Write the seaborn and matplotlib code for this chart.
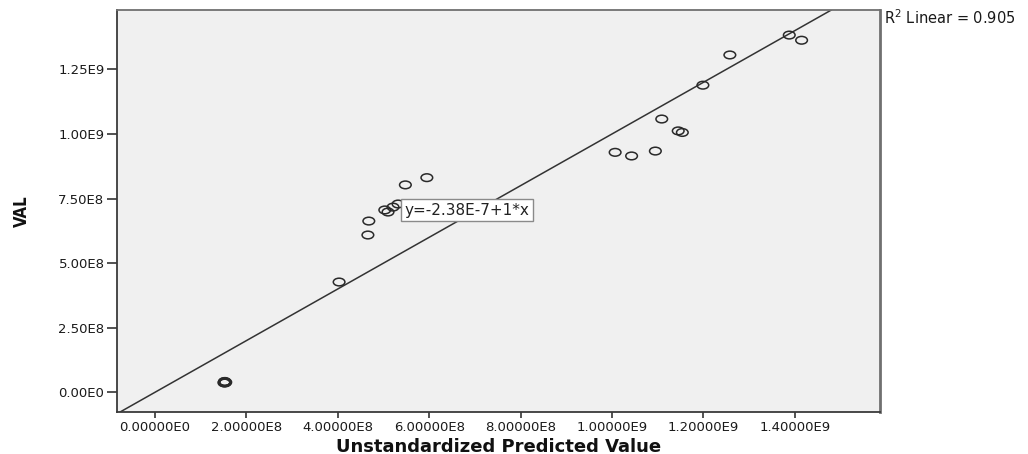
import matplotlib
matplotlib.use("Agg")
import matplotlib.pyplot as plt
from matplotlib.path import Path
import numpy as np
import pandas as pd
import seaborn as sns

# Regression output: unstandardized predicted value vs. observed VAL
predicted = [1.51e8, 1.52e8, 1.53e8, 1.54e8, 1.52e8, 1.53e8, 1.55e8,
             4.03e8, 4.66e8, 4.68e8, 5.03e8, 5.10e8, 5.21e8, 5.32e8,
             5.48e8, 5.95e8, 1.007e9, 1.043e9, 1.095e9, 1.109e9,
             1.145e9, 1.154e9, 1.199e9, 1.258e9, 1.388e9, 1.415e9]
val = [0.37e8, 0.40e8, 0.42e8, 0.38e8, 0.41e8, 0.36e8, 0.39e8,
       4.27e8, 6.09e8, 6.63e8, 7.06e8, 6.98e8, 7.17e8, 7.29e8,
       8.03e8, 8.31e8, 9.29e8, 9.15e8, 9.34e8, 1.058e9,
       1.012e9, 1.006e9, 1.189e9, 1.306e9, 1.383e9, 1.363e9]

fit_intercept = -2.38e-7
fit_slope = 1.0
r_squared = 0.905

x_ticks = [0, 2e8, 4e8, 6e8, 8e8, 1.0e9, 1.2e9, 1.4e9]
x_tick_labels = ["0.00000E0", "2.00000E8", "4.00000E8", "6.00000E8",
                 "8.00000E8", "1.00000E9", "1.20000E9", "1.40000E9"]
y_ticks = [0, 2.5e8, 5.0e8, 7.5e8, 1.0e9, 1.25e9]
y_tick_labels = ["0.00E0", "2.50E8", "5.00E8", "7.50E8", "1.00E9", "1.25E9"]

df = pd.DataFrame({"predicted": predicted, "VAL": val})

sns.set_style("ticks")
plt.rcParams["font.family"] = ["DejaVu Sans"]

fig = plt.figure(figsize=(10.28, 4.54), dpi=100)
ax = fig.add_axes([0.1138, 0.0925, 0.742, 0.886])
ax.set_facecolor("#f0f0f0")

# slightly flattened open circle marker
circ = Path.unit_circle()
ellipse = Path(circ.vertices * np.array([1.0, 0.66]), circ.codes)

sns.scatterplot(data=df, x="predicted", y="VAL", marker=ellipse, s=70,
                facecolor="none", edgecolor="#2a2a2a", linewidth=1.1,
                ax=ax, legend=False, zorder=3)

ax.set_xlim(-0.83e8, 1.586e9)
ax.set_ylim(-0.762e8, 1.481e9)

ax.axline((0, fit_intercept), slope=fit_slope, color="#333333", lw=1.1, zorder=2)

ax.set_xticks(x_ticks)
ax.set_xticklabels(x_tick_labels)
ax.set_yticks(y_ticks)
ax.set_yticklabels(y_tick_labels)
ax.tick_params(axis="x", length=4.5, width=1.2, color="#333333", pad=2,
               labelsize=9.5, labelcolor="#1a1a1a")
ax.tick_params(axis="y", length=7.5, width=1.2, color="#333333", pad=1.5,
               labelsize=9.5, labelcolor="#1a1a1a")

for side in ["left", "bottom"]:
    ax.spines[side].set_color("#3a3a3a")
    ax.spines[side].set_linewidth(1.3)
ax.spines["top"].set_color("#707070")
ax.spines["top"].set_linewidth(1.3)
ax.spines["right"].set_color("#707070")
ax.spines["right"].set_linewidth(2.0)

ax.set_xlabel("Unstandardized Predicted Value", fontsize=13,
              fontweight="bold", color="#111111")
ax.xaxis.set_label_coords(0.5, -0.0995)
ax.xaxis.label.set_va("baseline")

ax.set_ylabel("VAL", fontsize=12, fontweight="bold", color="#111111",
              fontstretch="condensed")
ax.yaxis.set_label_coords(-0.125, 0.5)
ax.yaxis.label.set_va("center")

ax.text(5.46e8, 7.05e8, f"y={fit_intercept:.2E}".replace("E-0", "E-") + f"+{fit_slope:g}*x",
        fontsize=11, va="center", ha="left", color="#222222", zorder=4,
        bbox=dict(boxstyle="square,pad=0.22", fc="white", ec="#8a8a8a", lw=1.0))

fig.text(0.8595, 1 - 18 / 454, r"R$^{2}$ Linear = " + f"{r_squared:.3f}",
         fontsize=10.5, va="center", ha="left", color="#1a1a1a")

fig.savefig("out.png", dpi=100)
